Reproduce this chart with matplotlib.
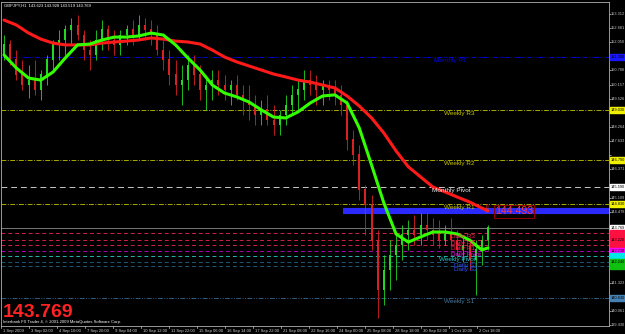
import numpy as np
import matplotlib
matplotlib.use("Agg")
import matplotlib.pyplot as plt
from matplotlib.patches import Rectangle
from matplotlib.transforms import blended_transform_factory

# ---------------- data ----------------
title_text = "GBPJPY,H1  143.623 143.928 143.519 143.769"
last_price = 143.769

# candles (each = 7 hourly bars)
highs = [152.37,152.15,151.70,151.26,151.03,151.26,150.81,151.48,152.15,152.60,
         152.82,153.13,153.27,152.60,152.15,152.60,153.04,152.82,152.60,152.60,
         152.82,153.04,153.27,153.13,153.04,152.82,152.15,151.70,151.26,151.03,
         151.48,151.48,151.03,150.59,150.81,150.81,150.59,150.36,150.59,150.14,
         150.14,149.69,149.47,149.69,149.25,149.03,149.69,150.14,150.36,150.81,
         150.81,150.59,150.36,150.36,150.36,150.14,149.47,148.13,147.46,145.68,
         145.23,143.67,142.55,143.22,143.45,143.89,144.12,144.34,144.43,144.43,
         144.21,144.12,143.89,144.21,143.67,143.45,143.31,143.22,143.45,143.89]
lows = [151.26,151.03,150.36,149.92,149.56,149.69,149.47,150.14,150.81,151.26,
        151.48,151.93,152.15,151.26,150.81,151.26,151.70,151.70,151.48,151.48,
        151.93,151.93,152.15,152.15,151.93,151.48,150.81,150.14,149.69,149.25,
        149.92,150.14,149.47,149.03,149.47,149.69,149.47,149.25,149.47,148.80,
        148.58,148.36,148.36,148.36,147.91,147.91,148.36,148.80,149.03,149.47,
        149.69,149.25,149.25,149.47,149.25,148.80,147.24,146.57,145.01,143.45,
        142.78,139.74,140.32,140.99,141.44,142.33,142.78,143.00,143.00,143.22,
        143.00,142.87,143.00,143.00,142.42,142.24,141.88,140.77,142.11,142.78]
opens = [151.48,151.93,151.26,150.59,150.14,150.36,149.92,150.59,151.26,151.93,
         152.15,152.60,152.82,152.37,151.70,151.48,152.15,152.60,152.15,151.93,
         152.37,152.60,152.37,152.82,152.60,152.37,151.70,151.26,150.59,150.14,
         150.36,151.03,150.59,149.92,150.14,150.36,150.14,149.92,150.14,149.69,
         149.47,149.25,148.80,149.03,148.58,148.36,148.80,149.25,149.69,149.92,
         150.36,150.14,149.92,150.14,149.92,149.69,149.25,147.69,147.02,145.46,
         144.79,143.22,140.99,141.88,142.55,143.00,143.45,143.67,143.45,143.89,
         143.67,143.45,143.22,143.45,143.22,142.78,143.00,142.33,142.78,143.22]
closes = [151.93,151.26,150.59,150.14,150.36,149.92,150.59,151.26,151.93,152.15,
          152.60,152.82,152.37,151.70,151.48,152.15,152.60,152.15,151.93,152.37,
          152.60,152.37,152.82,152.60,152.37,151.70,151.26,150.59,150.14,150.36,
          151.03,150.59,149.92,150.14,150.36,150.14,149.92,150.14,149.69,149.47,
          149.25,148.80,149.03,148.58,148.36,148.80,149.25,149.69,149.92,150.36,
          150.14,149.92,150.14,149.92,149.69,149.25,147.69,147.02,145.46,144.79,
          143.22,140.99,141.88,142.55,143.00,143.45,143.67,143.45,143.89,143.67,
          143.45,143.22,143.45,143.22,142.78,143.00,142.33,142.78,143.22,143.77]

# moving averages, sampled every 14 hourly bars (+ last bar)
ma_slow = [153.04,152.82,152.46,152.19,152.01,151.93,151.93,151.93,152.01,152.06,
           152.10,152.15,152.24,152.19,152.10,152.06,151.97,151.70,151.39,151.17,
           150.99,150.81,150.63,150.50,150.36,150.27,150.14,150.01,149.65,149.20,
           148.67,148.00,147.20,146.49,146.04,145.59,145.37,145.14,144.92,144.65,
           144.52]
ma_fast = [151.48,150.90,150.45,150.36,150.72,151.35,151.93,151.97,152.15,152.28,
           152.28,152.33,152.46,152.37,151.93,151.35,150.81,150.14,149.78,149.61,
           149.38,149.03,148.71,148.67,148.94,149.34,149.65,149.70,149.34,148.22,
           146.57,144.88,143.49,143.13,143.36,143.58,143.58,143.49,143.22,142.78,
           142.87]

# pivot levels
level_names = ["Monthly R1", "Weekly R3", "Weekly R2", "Monthly Pivot", "Weekly R1",
               "Daily R3", "Daily R2", "Daily R1", "Daily Pivot", "Weekly Pivot",
               "Daily S1", "Daily S2", "Weekly S1"]
level_prices = [151.39, 149.03, 146.79, 145.59, 144.83,
                143.54, 143.22, 143.00, 142.73, 142.51,
                142.24, 142.06, 140.63]
level_colors = ['#0000d8', '#a8a800', '#a8a800', '#c8c8c8', '#a8a800',
                '#d02048', '#d02048', '#d02048', '#b000b0', '#20b8a8',
                '#205878', '#205878', '#305c80']
level_text_colors = ['#0000e8', '#c8c800', '#c8c800', '#e8e8e8', '#c8c800',
                     '#ff2050', '#ff2050', '#ff2050', '#e020e0', '#20c8c8',
                     '#3050ff', '#3050ff', '#4a7aa0']
level_box_colors = ['#1818ff', '#f0f000', '#f0f000', '#ffffff', '#f0f000',
                    '#ff1040', '#ff1040', '#ff1040', '#ff00ff', '#00e8e8',
                    '#10c010', '#10c010', '#4682b4']
level_ls = [(0, (5, 1.5, 1, 1.5, 1, 1.5)), (0, (5, 1.5, 1, 1.5)), (0, (5, 1.5, 1, 1.5)),
            (0, (6, 4)), (0, (5, 1.5, 1, 1.5)),
            (0, (4, 3)), (0, (4, 3)), (0, (4, 3)), (0, (4, 3)), (0, (4, 3)),
            (0, (4, 3)), (0, (4, 3)), (0, (5, 1.5, 1, 1.5, 1, 1.5))]
level_text_px = [450, 459, 459, 451, 459, 463, 463, 463, 466, 457, 466, 466, 459]

band_price = 144.53
band_label = "144.493"

price_ticks = [139.430, 140.061, 140.692, 141.323, 141.954, 142.585, 143.216, 143.847,
               144.478, 145.109, 145.740, 146.371, 147.002, 147.633, 148.264, 148.895,
               149.526, 150.157, 150.788, 151.419, 152.050, 152.681, 153.312]
date_labels = ["1 Sep 2009", "3 Sep 02:00", "4 Sep 10:00", "7 Sep 20:00", "9 Sep 04:00",
               "10 Sep 12:00", "11 Sep 22:00", "15 Sep 06:00", "16 Sep 14:00",
               "17 Sep 22:00", "21 Sep 08:00", "22 Sep 16:00", "24 Sep 00:00",
               "25 Sep 08:00", "28 Sep 18:00", "30 Sep 02:00", "1 Oct 10:00",
               "2 Oct 18:00"]

# ---------------- figure ----------------
W, H = 625, 334
PXB = 0.875  # pixels per hourly bar
fig = plt.figure(figsize=(W / 100, H / 100), dpi=100, facecolor='black')
ax = fig.add_axes([1 / W, 1 - 326 / H, 608 / W, 324 / H])
ax.set_facecolor('black')
ax.set_xlim(0, 608 / PXB)
ax.set_ylim(139.385, 153.845)
for s in ax.spines.values():
    s.set_color('#b0b0b0')
    s.set_linewidth(0.6)
PPX = (153.845 - 139.385) / 324  # price per pixel

def px2bar(x):
    return (x - 1) / PXB

# pivot lines
for p, c, ls in zip(level_prices, level_colors, level_ls):
    ax.axhline(p, color=c, lw=0.7, ls=ls, zorder=1)
# current price line
ax.axhline(last_price, color='#8a8a8a', lw=0.6, zorder=1)
# blue band
ax.hlines(band_price, px2bar(343), 608 / PXB, color='#2a2aff', lw=4.4, zorder=2)

# candles
n = len(highs)
xb = np.arange(n) * 7 + 3.5
o = np.array(opens); c = np.array(closes)
up = c >= o
colors = np.where(up, '#22d822', '#d82222')
ax.vlines(xb, lows, highs, colors=colors, lw=0.6, zorder=3)
ax.bar(xb, np.abs(c - o) + 0.02, bottom=np.minimum(o, c), width=2.4,
       color=colors, zorder=3, linewidth=0)

# moving averages
ma_x = list(np.arange(len(ma_slow) - 1) * 14 + 3.5) + [xb[-1]]
ax.plot(ma_x, ma_slow, color='#ff1a1a', lw=2.2, zorder=5, solid_capstyle='round')
ax.plot(ma_x, ma_fast, color='#33ff00', lw=2.2, zorder=6, solid_capstyle='round')

# pivot texts
for name, p, tc, xp in zip(level_names, level_prices, level_text_colors, level_text_px):
    ax.annotate(name, (px2bar(xp), p), xytext=(0, -0.8), textcoords='offset points',
                ha='center', va='top', fontsize=4.6, color=tc,
                family='Liberation Sans', zorder=7)

# arrow and price label
ax.text(px2bar(486), band_price + 0.05, "\u21e9", fontsize=7, color='#ff3030',
        ha='center', va='center', zorder=8)
ax.text(px2bar(514), band_price - 0.03, band_label, fontsize=7.6, color='#ff3a3a',
        ha='center', va='center', family='Liberation Sans', zorder=8,
        bbox=dict(boxstyle='square,pad=0.12', fc='none', ec='#900000', lw=0.7))

# price axis on right
ax.set_yticks(price_ticks)
ax.yaxis.tick_right()
ax.set_yticklabels([])
ax.tick_params(axis='y', colors='#c8c8c8', length=1.2, width=0.5)
ax.set_xticks([])
bt = blended_transform_factory(fig.transFigure, ax.transData)
box_prices = level_prices + [last_price]
box_colors = level_box_colors + ['#ffffff']
for v in price_ticks:
    if min(abs(v - b) for b in box_prices) < 5.5 * PPX:
        continue  # hidden behind a highlighted box
    fig.text(611 / W, v, "%.3f" % v, transform=bt, fontsize=2.8, color='#c8c8c8',
             va='center', ha='left', family='Liberation Sans')

# highlighted price boxes on axis
hbox = 6 * PPX
labelled = []
order = np.argsort(box_prices)[::-1]
for k in order:
    p, bc = box_prices[k], box_colors[k]
    fig.add_artist(Rectangle((610 / W, p - hbox / 2), 15 / W, hbox, transform=bt,
                             color=bc, zorder=10, clip_on=False))
for k in order:
    p = box_prices[k]
    if labelled and min(abs(p - q) for q in labelled) < 5.2 * PPX:
        continue
    labelled.append(p)
    fig.text(611 / W, p, "%.3f" % p, transform=bt, fontsize=2.8, color='black',
             va='center', ha='left', zorder=11, family='Liberation Sans')

# date labels
xt = blended_transform_factory(ax.transData, fig.transFigure)
for i, lab in enumerate(date_labels):
    bx = i * 32
    ax.plot([bx, bx], [139.385, 139.385 - 0.08], color='#c8c8c8', lw=0.5,
            clip_on=False)
    fig.text(bx + 2 / PXB, 1 - 331 / H, lab, transform=xt, fontsize=3,
             color='#d0d0d0', va='center', ha='left', family='Liberation Sans')

# texts
fig.text(4 / W, 1 - 5.5 / H, title_text, fontsize=3, color='white', va='center',
         family='Liberation Sans')
fig.text(3 / W, 1 - 312.5 / H, "%.3f" % last_price, fontsize=14, fontweight='bold',
         color='#ff2222', family='Liberation Sans', va='center', ha='left')
fig.text(3 / W, 1 - 322.5 / H, "Interbank FX Trader 4, \u00a9 2001-2009 MetaQuotes Software Corp.",
         fontsize=3, color='white', va='center', ha='left', family='Liberation Sans')

fig.savefig("out.png", dpi=100, facecolor='black')
